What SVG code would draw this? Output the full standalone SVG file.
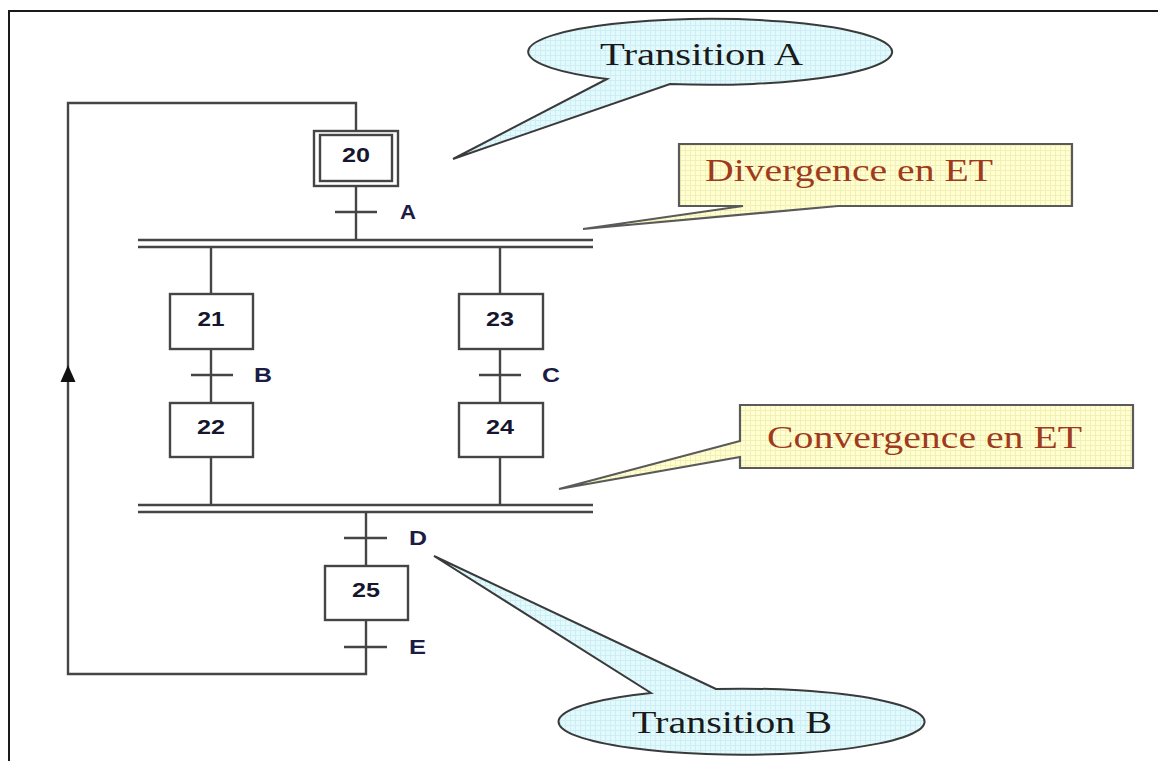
<svg xmlns="http://www.w3.org/2000/svg" width="1158" height="761" viewBox="0 0 1158 761">
  <style>
    .ln { fill: none; stroke: #454545; stroke-width: 2.4; }
    .step { fill: #ffffff; stroke: #454545; stroke-width: 2.4; }
    .num { font-family: "Liberation Sans", Arial, sans-serif; font-weight: bold; font-size: 20px; fill: #16162e; text-anchor: middle; }
    .cond { font-family: "Liberation Sans", Arial, sans-serif; font-weight: bold; font-size: 20px; fill: #1c1c44; }
    .bubble { stroke: #3a3a3a; stroke-width: 2; fill: url(#cyanGrid); }
    .note { stroke: #5a5a5a; stroke-width: 2.2; fill: url(#yellowGrid); }
    .callTxt { font-family: "Liberation Serif", "Times New Roman", serif; font-size: 32px; }
  </style>
  <defs>
    <pattern id="cyanGrid" width="5" height="5" patternUnits="userSpaceOnUse">
      <rect width="5" height="5" fill="#e2fafd"/>
      <path d="M0 0.5H5M0.5 0V5" stroke="#cdeff4" stroke-width="1"/>
    </pattern>
    <pattern id="yellowGrid" width="5" height="5" patternUnits="userSpaceOnUse">
      <rect width="5" height="5" fill="#ffffcf"/>
      <path d="M0 0.5H5M0.5 0V5" stroke="#f2f0b8" stroke-width="1"/>
    </pattern>
  </defs>

  <rect width="1158" height="761" fill="#ffffff"/>
  <!-- page frame -->
  <path d="M9 761V11H1158" fill="none" stroke="#1a1a1a" stroke-width="2"/>

  <!-- links, transitions and the loop back -->
  <g id="connectors">
    <!-- loop from E back to step 20 -->
    <path class="ln" d="M366 620V674H68V103H356V131"/>
    <path d="M68 365L60.5 382H75.5Z" fill="#111"/>
    <!-- 20 to divergence bar -->
    <path class="ln" d="M356 186V240"/>
    <path class="ln" d="M335 212H377"/>
    <!-- divergence double bar -->
    <path class="ln" d="M138 240H593M138 247H593"/>
    <!-- left branch -->
    <path class="ln" d="M211 247V294M211 349V403M211 457V505"/>
    <path class="ln" d="M191 375H233"/>
    <!-- right branch -->
    <path class="ln" d="M500 247V294M500 349V403M500 457V505"/>
    <path class="ln" d="M479 375H521"/>
    <!-- convergence double bar -->
    <path class="ln" d="M138 505H593M138 512H593"/>
    <!-- to step 25 -->
    <path class="ln" d="M366 512V566"/>
    <path class="ln" d="M344 538H387"/>
    <path class="ln" d="M344 647H387"/>
  </g>

  <g id="step20">
    <rect class="step" x="314" y="131" width="84" height="55"/>
    <rect class="step" x="320" y="135" width="72" height="46"/>
    <text class="num" x="356" y="162" textLength="28" lengthAdjust="spacingAndGlyphs">20</text>
  </g>
  <g id="step21">
    <rect class="step" x="170" y="294" width="83" height="55"/>
    <text class="num" x="211" y="326" textLength="27" lengthAdjust="spacingAndGlyphs">21</text>
  </g>
  <g id="step22">
    <rect class="step" x="170" y="403" width="83" height="54"/>
    <text class="num" x="211" y="434" textLength="28" lengthAdjust="spacingAndGlyphs">22</text>
  </g>
  <g id="step23">
    <rect class="step" x="459" y="294" width="84" height="55"/>
    <text class="num" x="500" y="326" textLength="28" lengthAdjust="spacingAndGlyphs">23</text>
  </g>
  <g id="step24">
    <rect class="step" x="459" y="403" width="84" height="54"/>
    <text class="num" x="500" y="434" textLength="28" lengthAdjust="spacingAndGlyphs">24</text>
  </g>
  <g id="step25">
    <rect class="step" x="325" y="566" width="83" height="54"/>
    <text class="num" x="366" y="597" textLength="28" lengthAdjust="spacingAndGlyphs">25</text>
  </g>

  <!-- transition conditions -->
  <g id="conditions">
    <text class="cond" x="400" y="219" textLength="16" lengthAdjust="spacingAndGlyphs">A</text>
    <text class="cond" x="254" y="382" textLength="18" lengthAdjust="spacingAndGlyphs">B</text>
    <text class="cond" x="542" y="382" textLength="18" lengthAdjust="spacingAndGlyphs">C</text>
    <text class="cond" x="409" y="545" textLength="18" lengthAdjust="spacingAndGlyphs">D</text>
    <text class="cond" x="409" y="654" textLength="17" lengthAdjust="spacingAndGlyphs">E</text>
  </g>

  <!-- callouts -->
  <g id="calloutTransitionA">
    <path class="bubble" d="M670 84A182 33 0 1 0 607 79L453 159Z"/>
    <text class="callTxt" x="600" y="65" fill="#1a1a1a" textLength="203" lengthAdjust="spacingAndGlyphs">Transition A</text>
  </g>
  <g id="calloutDivergence">
    <path class="note" d="M679 144H1072V206H838L583 229L743 206H679Z"/>
    <text class="callTxt" x="705" y="181" fill="#a03a1e" textLength="288" lengthAdjust="spacingAndGlyphs">Divergence en ET</text>
  </g>
  <g id="calloutConvergence">
    <path class="note" d="M740 405H1133V468H740V457L559 489L740 441Z"/>
    <text class="callTxt" x="767" y="448" fill="#a03a1e" textLength="315" lengthAdjust="spacingAndGlyphs">Convergence en ET</text>
  </g>
  <g id="calloutTransitionB">
    <path class="bubble" d="M716 689L434 556L651 693A183 33 0 1 0 716 689Z"/>
    <text class="callTxt" x="632" y="733" fill="#1a1a1a" textLength="200" lengthAdjust="spacingAndGlyphs">Transition B</text>
  </g>
</svg>
